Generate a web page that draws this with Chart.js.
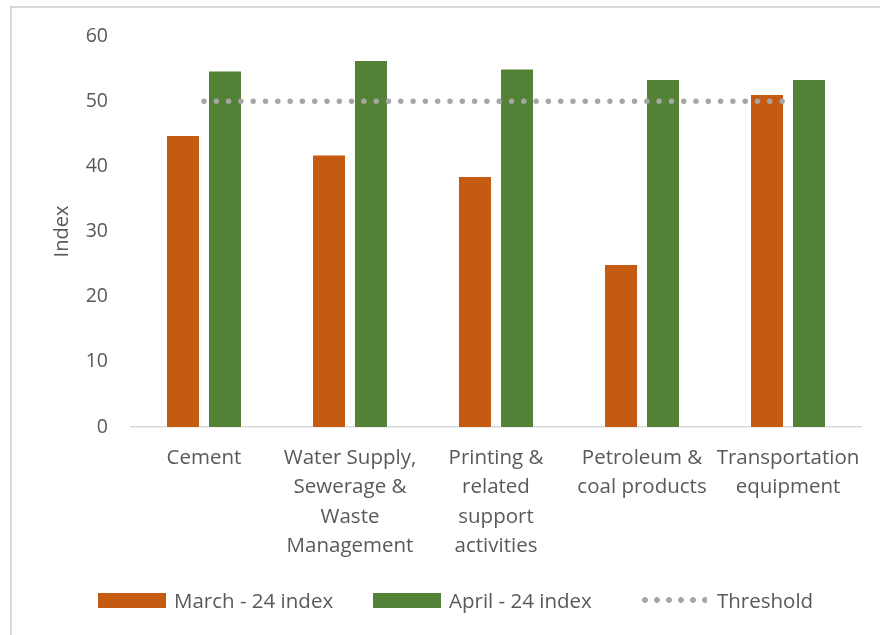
<!DOCTYPE html>
<html>
<head>
<meta charset="utf-8">
<script src="https://cdn.jsdelivr.net/npm/chart.js@4.4.1/dist/chart.umd.min.js"></script>
<style>
  body{ margin:0; background:#fff; font-family:"Open Sans",sans-serif; }
  #wrap{ position:relative; width:880px; height:635px; overflow:hidden; }
  #frame{ position:absolute; left:10px; top:6px; width:880px; height:640px;
          border-left:2px solid #d9d9d9; border-top:2px solid #d9d9d9; }
  canvas{ position:absolute; left:0; top:0; }
  .item{ position:absolute; top:586px; display:flex; align-items:center;
         font-size:20.5px; color:#595959; white-space:nowrap; height:28px; }
  .box{ width:68px; height:15px; margin-right:8px; }
  .dots{ width:68px; height:6px; margin-right:10px;
         background:radial-gradient(circle, #a6a6a6 2.7px, transparent 3.1px) 0 0/12px 6px repeat-x; }
</style>
</head>
<body>
<div id="wrap">
  <div id="frame"></div>
  <canvas id="chart" width="880" height="635"></canvas>
  <div class="item" style="left:98px"><div class="box" style="background:#c55a11"></div>March - 24 index</div>
  <div class="item" style="left:373px"><div class="box" style="background:#538135"></div>April - 24 index</div>
  <div class="item" style="left:639px"><div class="dots"></div>Threshold</div>
</div>
<script>

/* ========== data ========== */

const categories = [
    ["Cement"],
    ["Water Supply,","Sewerage &","Waste","Management"],
    ["Printing &","related","support","activities"],
    ["Petroleum &","coal products"],
    ["Transportation","equipment"]
];

const marchIndex = [44.8, 41.8, 38.5, 25.0, 51.1];
const aprilIndex = [54.7, 56.3, 55.0, 53.4, 53.4];
const threshold  = [50, 50, 50, 50, 50];

const yTicks = [0, 10, 20, 30, 40, 50, 60];

const textColor = "#595959";


/* ========== chart ========== */

const ctx = document.getElementById("chart").getContext("2d");

new Chart(ctx,{
    type:"bar",
    data:{
        labels:categories,
        datasets:[
            {
                label:"March - 24 index",
                data:marchIndex,
                backgroundColor:"#c55a11",
                borderColor:"rgba(255,255,255,0.45)",
                borderWidth:1,
                barPercentage:0.81,
                categoryPercentage:0.575,
                order:2
            },
            {
                label:"April - 24 index",
                data:aprilIndex,
                backgroundColor:"#538135",
                borderColor:"rgba(255,255,255,0.45)",
                borderWidth:1,
                barPercentage:0.81,
                categoryPercentage:0.575,
                order:2
            },
            {
                type:"line",
                label:"Threshold",
                data:threshold,
                borderColor:"#a6a6a6",
                borderWidth:5.5,
                borderDash:[0,12.3],
                borderCapStyle:"round",
                pointRadius:0,
                fill:false,
                order:1
            }
        ]
    },
    options:{
        responsive:false,
        animation:false,
        layout:{ padding:{ top:36, left:46, right:19, bottom:0 } },
        plugins:{
            legend:{ display:false },
            tooltip:{ enabled:false }
        },
        scales:{
            x:{
                grid:{ display:false, drawTicks:false },
                border:{ display:true, color:"#d9d9d9", width:1.5 },
                ticks:{
                    color:textColor,
                    font:{ family:"Open Sans", size:20.5, lineHeight:1.44 },
                    padding:16,
                    maxRotation:0,
                    autoSkip:false
                },
                afterFit(scale){ scale.height = 208; }
            },
            y:{
                min:0,
                max:60,
                afterBuildTicks(scale){ scale.ticks = yTicks.map(v=>({value:v})); },
                grid:{ display:false, drawTicks:false },
                border:{ display:false },
                ticks:{
                    color:textColor,
                    font:{ family:"Open Sans", size:19.5 },
                    padding:23
                },
                title:{
                    display:true,
                    text:"Index",
                    color:textColor,
                    font:{ family:"Open Sans", size:20 },
                    padding:{ top:4, bottom:4 }
                },
                afterFit(scale){ scale.width = 85; }
            }
        }
    }
});

</script>
</body>
</html>
